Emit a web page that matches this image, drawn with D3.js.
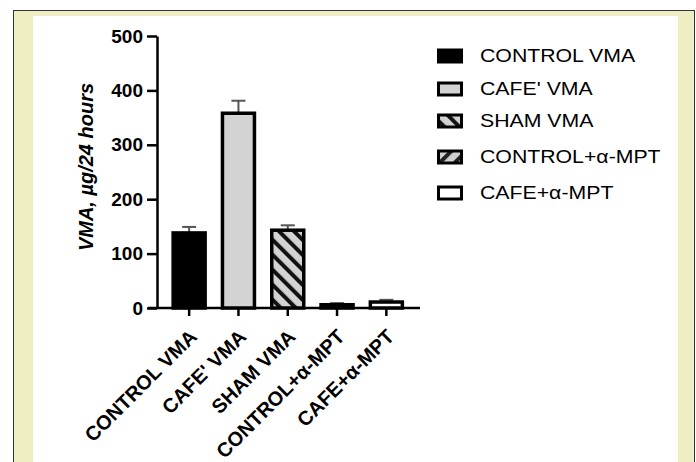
<!DOCTYPE html>
<meta charset="utf-8">
<script src="https://d3js.org/d3.v7.min.js"></script>
<style>
  body { margin: 0; background: #fff; }
  text { font-family: Arial, "Liberation Sans", sans-serif; }
</style>
<body>
<div id="chart"></div>
<script>

// groups, means and upper error (mean + SEM)
var groups = ["CONTROL VMA", "CAFE' VMA", "SHAM VMA", "CONTROL+\u03b1-MPT", "CAFE+\u03b1-MPT"];
var means = [138, 358, 143, 6, 11];
var errTop = [149, 381, 152, 9, 15];
var yTicks = [0, 100, 200, 300, 400, 500];
var fills = ["#000", "#d3d3d3", "url(#hatchDown)", "url(#hatchUp)", "#fff"];

var W = 696, H = 462;

var svg = d3.select("#chart")
  .append("svg")
    .attr("width", W)
    .attr("height", H);

// page frame
svg.append("rect")
  .attr("x", 13.5).attr("y", 10.5)
  .attr("width", 681).attr("height", 470)
  .attr("fill", "#eeeec2")
  .attr("stroke", "#333").attr("stroke-width", 1);
svg.append("rect")
  .attr("x", 33).attr("y", 16)
  .attr("width", 645).attr("height", 470)
  .attr("fill", "#fff");

var defs = svg.append("defs");
function hatch(id, angle, bg, ink) {
  var p = defs.append("pattern")
    .attr("id", id)
    .attr("patternUnits", "userSpaceOnUse")
    .attr("width", 10.6).attr("height", 10.6)
    .attr("patternTransform", "rotate(" + angle + ")");
  p.append("rect").attr("width", 10.6).attr("height", 10.6).attr("fill", bg);
  p.append("rect").attr("width", 4).attr("height", 10.6).attr("fill", ink);
}
hatch("hatchDown", -45, "#d3d3d3", "#111");
hatch("hatchUp", 45, "#cfcfcf", "#222");

var y = d3.scaleLinear()
  .domain([0, 500])
  .range([308, 36]);

var x = d3.scaleBand()
  .domain(groups)
  .range([164.5, 411])
  .padding(0);

var barW = 32;

// y axis
var yAxis = svg.append("g")
  .attr("transform", "translate(157,0)")
  .call(d3.axisLeft(y).tickValues(yTicks).tickSize(10).tickSizeOuter(0));
yAxis.select(".domain").attr("stroke", "#000").attr("stroke-width", 2.5);
yAxis.selectAll(".tick line").attr("stroke", "#000").attr("stroke-width", 2.5);
yAxis.selectAll(".tick text")
  .attr("x", -14)
  .style("font-size", "19px")
  .style("font-weight", "bold")
  .attr("fill", "#000");

// x axis
var xAxis = svg.append("g")
  .attr("transform", "translate(0,308)")
  .call(d3.axisBottom(x).tickSize(8).tickSizeOuter(0).tickFormat(""));
xAxis.select(".domain").attr("d", "M148,0H420").attr("stroke", "#000").attr("stroke-width", 2.5);
xAxis.selectAll(".tick line").attr("stroke", "#000").attr("stroke-width", 2.5);

// rotated category labels
svg.append("g").selectAll("text")
  .data(groups)
  .join("text")
    .attr("transform", function(d) {
      return "translate(" + (x(d) + x.bandwidth() / 2 + 4) + ",333) rotate(-45)";
    })
    .attr("text-anchor", "end")
    .attr("dy", "0.35em")
    .style("font-size", "20px")
    .style("font-weight", "bold")
    .text(function(d) { return d; });

// error bars (upper only)
var eb = svg.append("g").attr("stroke", "#555").attr("stroke-width", 2);
groups.forEach(function(g, i) {
  var cx = x(g) + x.bandwidth() / 2;
  eb.append("line")
    .attr("x1", cx).attr("x2", cx)
    .attr("y1", y(means[i])).attr("y2", y(errTop[i]));
  eb.append("line")
    .attr("x1", cx - 7).attr("x2", cx + 7)
    .attr("y1", y(errTop[i])).attr("y2", y(errTop[i]));
});

// bars
svg.append("g").selectAll("rect")
  .data(groups)
  .join("rect")
    .attr("x", function(d) { return x(d) + (x.bandwidth() - barW) / 2; })
    .attr("y", function(d, i) { return y(means[i]); })
    .attr("width", barW)
    .attr("height", function(d, i) { return y(0) - y(means[i]); })
    .attr("fill", function(d, i) { return fills[i]; })
    .attr("stroke", "#000")
    .attr("stroke-width", 3.5);

// y axis title
svg.append("text")
  .attr("transform", "translate(93,167) rotate(-90)")
  .attr("text-anchor", "middle")
  .style("font-size", "20px")
  .style("font-weight", "bold")
  .style("font-style", "italic")
  .text("VMA, \u00b5g/24 hours");

// legend
var legendY = [56, 89, 121, 157, 193];
var legend = svg.append("g");
groups.forEach(function(g, i) {
  legend.append("rect")
    .attr("x", 438.5).attr("y", legendY[i] - 6)
    .attr("width", 23).attr("height", 12)
    .attr("fill", fills[i])
    .attr("stroke", "#000").attr("stroke-width", 3);
  legend.append("text")
    .attr("transform", "translate(480," + legendY[i] + ") scale(1.15,1)")
    .attr("dy", "0.35em")
    .style("font-size", "18.5px")
    .text(g);
});

</script>
</body>
</html>
